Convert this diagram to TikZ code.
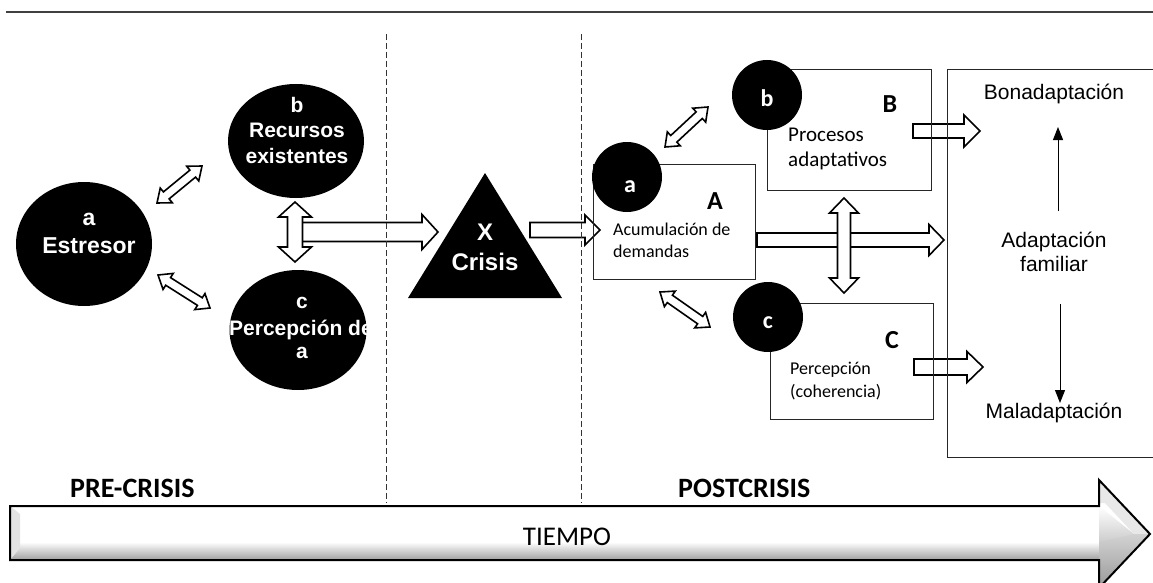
\documentclass[tikz,border=0pt]{standalone}
\usepackage{fontspec}
\setmainfont{Carlito}
\newfontfamily\arialf{Liberation Sans}
\usetikzlibrary{calc,shapes.geometric,arrows.meta}

% double-headed block arrow: #1,#2 ends, #3 shaft half width, #4 head half width, #5 head length
\newcommand{\dblblock}[5]{%
  \path ($(#1)!#5!(#2)$) coordinate (hA) ($(#2)!#5!(#1)$) coordinate (hB);
  \draw[blockarrow] (#1) -- ($(hA)!#4!90:(#2)$) -- ($(hA)!#3!90:(#2)$)
    -- ($(hB)!#3!-90:(#1)$) -- ($(hB)!#4!-90:(#1)$) -- (#2)
    -- ($(hB)!#4!90:(#1)$) -- ($(hB)!#3!90:(#1)$)
    -- ($(hA)!#3!-90:(#2)$) -- ($(hA)!#4!-90:(#2)$) -- cycle;}
% single block arrow from tail #1 to tip #2
\newcommand{\oneblock}[5]{%
  \path ($(#2)!#5!(#1)$) coordinate (hB);
  \draw[blockarrow] ($(#1)!#3!90:(#2)$) -- ($(hB)!#3!-90:(#1)$) -- ($(hB)!#4!-90:(#1)$)
    -- (#2) -- ($(hB)!#4!90:(#1)$) -- ($(hB)!#3!90:(#1)$) -- ($(#1)!#3!-90:(#2)$) -- cycle;}

\tikzset{
  blockarrow/.style={draw=black, fill=white, line width=1.6pt, line join=miter},
  bigblob/.style={ellipse, fill=black, inner sep=0pt},
  smallblob/.style={circle, fill=black, inner sep=0pt, minimum size=70pt},
  panel/.style={draw=black!85, line width=0.9pt},
  sep/.style={draw=black!80, line width=0.8pt, dash pattern=on 6pt off 3pt},
  wbold/.style={text=white, font=\arialf\bfseries\fontsize{21}{25}\selectfont, anchor=base, inner sep=0pt},
  wsmall/.style={text=white, font=\bfseries\fontsize{24}{28}\selectfont, anchor=base, inner sep=0pt},
  capital/.style={font=\bfseries\fontsize{26}{30}\selectfont, anchor=base, inner sep=0pt},
  boxtext/.style={font=\fontsize{18}{22}\selectfont, anchor=base west, inner sep=0pt},
  outtext/.style={font=\arialf\fontsize{21}{25}\selectfont, anchor=base, inner sep=0pt},
  phase/.style={font=\bfseries\fontsize{28}{32}\selectfont, anchor=base west, inner sep=0pt},
  thinarrow/.style={draw=black, line width=1pt, -{Triangle[width=10pt,length=13pt]}}
}

\begin{document}
\begin{tikzpicture}[x=1pt,y=-1pt]
\useasboundingbox (0,0) rectangle (1153,583);

% rule across the top
\draw[black!75, line width=1.3pt] (6,12) -- (1153,12);

% ---------- time arrow ----------
\def\timepath{(10,506) -- (1099,506) -- (1099,480) -- (1150,534) -- (1099,588) -- (1099,560) -- (10,560) -- cycle}
\fill[white] \timepath;
\begin{scope}
  \clip \timepath;
  \shade[top color=white, bottom color=gray!80] (0,542) rectangle (1100,561);
  \fill[gray!22] (10,506) -- (20,514) -- (20,548) -- (10,560) -- cycle;
  \fill[gray!18] (1099,480) -- (1150,534) -- (1134,534) -- (1105,503) -- (1099,503) -- cycle;
  \shade[top color=gray!35, bottom color=gray!80] (1099,534) -- (1150,534) -- (1099,588) -- cycle;
  \shade[top color=white, bottom color=gray!40] (1099,506) -- (1134,534) -- (1099,542) -- cycle;
\end{scope}
\draw[black, line width=2pt, line join=miter] \timepath;
\node[font=\fontsize{27}{30}\selectfont, anchor=base, inner sep=0pt] (tiempo) at (567,545) {TIEMPO};

% ---------- anchor points of the block arrows ----------
\coordinate (ab1) at (157,203);  \coordinate (ab2) at (202,166);
\coordinate (ac1) at (158,275);  \coordinate (ac2) at (210,308);
\coordinate (bc1) at (295,202);  \coordinate (bc2) at (295,262);
\coordinate (rc1) at (302,232);  \coordinate (rc2) at (438,232);
\coordinate (xa1) at (530,230);  \coordinate (xa2) at (600,230);
\coordinate (Ab1) at (665,147);  \coordinate (Ab2) at (708,107);
\coordinate (Ac1) at (660,292);  \coordinate (Ac2) at (710,327);
\coordinate (Af1) at (757,240);  \coordinate (Af2) at (944,240);
\coordinate (BC1) at (844,198);  \coordinate (BC2) at (844,293);
\coordinate (Bf1) at (913,131);  \coordinate (Bf2) at (980,131);
\coordinate (Cf1) at (914,367);  \coordinate (Cf2) at (983,367);

% ---------- block arrows ----------
\dblblock{ab1}{ab2}{4.5pt}{9.5pt}{12pt}
\dblblock{ac1}{ac2}{4.5pt}{9.5pt}{12pt}
\oneblock{rc1}{rc2}{9.5pt}{17.5pt}{16pt}
\dblblock{bc1}{bc2}{7.5pt}{16.5pt}{15pt}
\oneblock{xa1}{xa2}{7.5pt}{15pt}{15pt}
\dblblock{Ab1}{Ab2}{4.5pt}{9.5pt}{12pt}
\dblblock{Ac1}{Ac2}{4.5pt}{9.5pt}{12pt}
\oneblock{Af1}{Af2}{7pt}{15.5pt}{15pt}
\dblblock{BC1}{BC2}{6.5pt}{14.5pt}{15pt}
\oneblock{Bf1}{Bf2}{7pt}{16pt}{16pt}
\oneblock{Cf1}{Cf2}{8pt}{15.5pt}{16pt}

% ---------- phase separators ----------
\coordinate (s1t) at (386,34); \coordinate (s1b) at (386,503);
\coordinate (s2t) at (581,34); \coordinate (s2b) at (581,503);
\draw[sep] (s1t) -- (s1b);
\draw[sep] (s2t) -- (s2b);

% ---------- panels ----------
\node[panel, anchor=north west, minimum width=162pt, minimum height=115pt, inner sep=0pt] (boxA) at (593,164) {};
\node[panel, anchor=north west, minimum width=164pt, minimum height=121pt, inner sep=0pt] (boxB) at (767,69) {};
\node[panel, anchor=north west, minimum width=163pt, minimum height=116pt, inner sep=0pt] (boxC) at (770,303) {};
\draw[panel] (1160,69) -- (947,69) -- (947,457) -- (1160,457);

% ---------- pre-crisis factors ----------
\node[bigblob, minimum width=136pt, minimum height=124pt] (pa) at (84,244) {};
\node[bigblob, minimum width=136pt, minimum height=114pt] (pb) at (296,141) {};
\node[bigblob, minimum width=137pt, minimum height=120pt] (pc) at (298,330) {};
\node[wbold, font=\arialf\bfseries\fontsize{23}{27}\selectfont] (la1) at (89,225) {a};
\node[wbold, font=\arialf\bfseries\fontsize{23}{27}\selectfont] (la2) at (89,253) {Estresor};
\node[wbold] (lb1) at (297,113) {b};
\node[wbold] (lb2) at (297,138) {Recursos};
\node[wbold] (lb3) at (297,163) {existentes};
\node[wbold] (lc1) at (302,308) {c};
\node[wbold, anchor=base west] (lc2) at (229,335) {Percepción de};
\node[wbold] (lc3) at (302,358) {a};

% ---------- crisis ----------
\fill[black] (485,173) -- (408,298) -- (562,298) -- cycle;
\coordinate (crisis) at (485,256);
\node[wbold, font=\arialf\bfseries\fontsize{24}{28}\selectfont] (lx1) at (485,240) {X};
\node[wbold, font=\arialf\bfseries\fontsize{24}{28}\selectfont] (lx2) at (485,270) {Crisis};

% ---------- post-crisis factors ----------
\node[smallblob] (sa) at (627,177) {};
\node[smallblob] (sb) at (767,95) {};
\node[smallblob] (sc) at (768,317) {};
\node[wsmall] (sal) at (630,192) {a};
\node[wsmall] (sbl) at (767,107) {b};
\node[wsmall] (scl) at (768,328) {c};

\node[capital] (capA) at (715,209) {A};
\node[capital] (capB) at (890,113) {B};
\node[capital] (capC) at (892,348) {C};

\node[boxtext] (ta1) at (613,235) {Acumulación de};
\node[boxtext] (ta2) at (613,257) {demandas};
\node[boxtext, font=\fontsize{21}{25}\selectfont] (tb1) at (788,141) {Procesos};
\node[boxtext, font=\fontsize{21}{25}\selectfont] (tb2) at (788,166) {adaptativos};
\node[boxtext] (tc1) at (790,374) {Percepción};
\node[boxtext] (tc2) at (790,397) {(coherencia)};

% ---------- outcome ----------
\node[outtext] (bona) at (1054,100) {Bonadaptación};
\node[outtext] (adap1) at (1054,247) {Adaptación};
\node[outtext] (adap2) at (1054,271) {familiar};
\node[outtext] (mala) at (1054,418) {Maladaptación};
\coordinate (up1) at (1058,211); \coordinate (up2) at (1058,127);
\coordinate (dn1) at (1060,304); \coordinate (dn2) at (1060,403);
\draw[thinarrow] (up1) -- (up2);
\draw[thinarrow] (dn1) -- (dn2);

% ---------- phase labels ----------
\node[phase] (pre) at (70,497) {PRE-CRISIS};
\node[phase] (post) at (678,497) {POSTCRISIS};
\end{tikzpicture}
\end{document}
